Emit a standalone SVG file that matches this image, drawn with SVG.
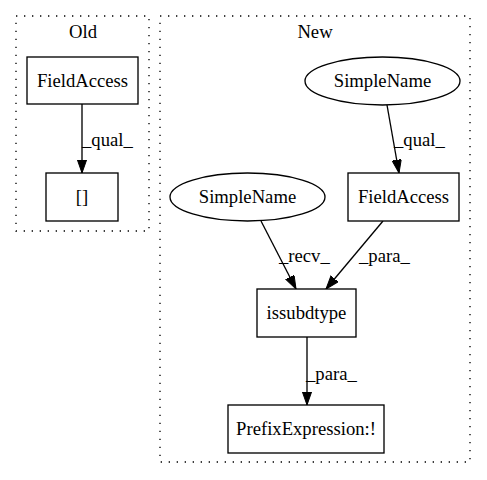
<svg xmlns="http://www.w3.org/2000/svg" width="487" height="480" viewBox="0 0 487 480">
<defs>
<style>
text{font-family:"Liberation Serif","Times New Roman",serif;font-size:18.67px;fill:#000}
.c{text-anchor:middle}
.node{fill:#fff;stroke:#000;stroke-width:1.33}
.cl{fill:none;stroke:#000;stroke-width:1.33;stroke-dasharray:1.33,6.67}
.e{fill:none;stroke:#000;stroke-width:1.33}
</style>
<marker id="ah" markerWidth="14" markerHeight="10" refX="13.3" refY="4.67" orient="auto" markerUnits="userSpaceOnUse">
<path d="M0,0 L13.3,4.67 L0,9.33 Z" fill="#000" stroke="#000" stroke-width="1"/>
</marker>
</defs>
<rect width="487" height="480" fill="#fff"/>
<g id="cluster_old">
<rect class="cl" x="16" y="16" width="133" height="215"/>
<text class="c" x="83" y="38">Old</text>
</g>
<g id="cluster_new">
<rect class="cl" x="160" y="16" width="310" height="446"/>
<text class="c" x="315" y="38">New</text>
</g>
<g id="connectors">
<path class="e" d="M82,104 L82,173" marker-end="url(#ah)"/>
<text x="82" y="146">_qual_</text>
<path class="e" d="M387,105 L399,173" marker-end="url(#ah)"/>
<text x="394" y="146">_qual_</text>
<path class="e" d="M261,221 L296,289" marker-end="url(#ah)"/>
<text x="279" y="262">_recv_</text>
<path class="e" d="M383,221 L326,289" marker-end="url(#ah)"/>
<text x="359" y="262">_para_</text>
<path class="e" d="M307,337 L307,405" marker-end="url(#ah)"/>
<text x="306" y="380">_para_</text>
</g>
<g id="old_fieldaccess">
<rect class="node" x="27" y="57" width="111" height="47"/>
<text class="c" x="82.5" y="87">FieldAccess</text>
</g>
<g id="old_index">
<rect class="node" x="46" y="173" width="72" height="48"/>
<text class="c" x="82" y="203">[]</text>
</g>
<g id="new_simplename_top">
<ellipse class="node" cx="382.5" cy="81" rx="77.5" ry="24"/>
<text class="c" x="382.5" y="87">SimpleName</text>
</g>
<g id="new_fieldaccess">
<rect class="node" x="348" y="173" width="111" height="48"/>
<text class="c" x="403.5" y="203">FieldAccess</text>
</g>
<g id="new_simplename_left">
<ellipse class="node" cx="247.5" cy="197" rx="77.5" ry="24"/>
<text class="c" x="247.5" y="203">SimpleName</text>
</g>
<g id="new_issubdtype">
<rect class="node" x="257" y="289" width="99" height="48"/>
<text class="c" x="306.5" y="319">issubdtype</text>
</g>
<g id="new_prefix">
<rect class="node" x="228" y="405" width="156" height="48"/>
<text class="c" x="306" y="435">PrefixExpression:!</text>
</g>
</svg>
